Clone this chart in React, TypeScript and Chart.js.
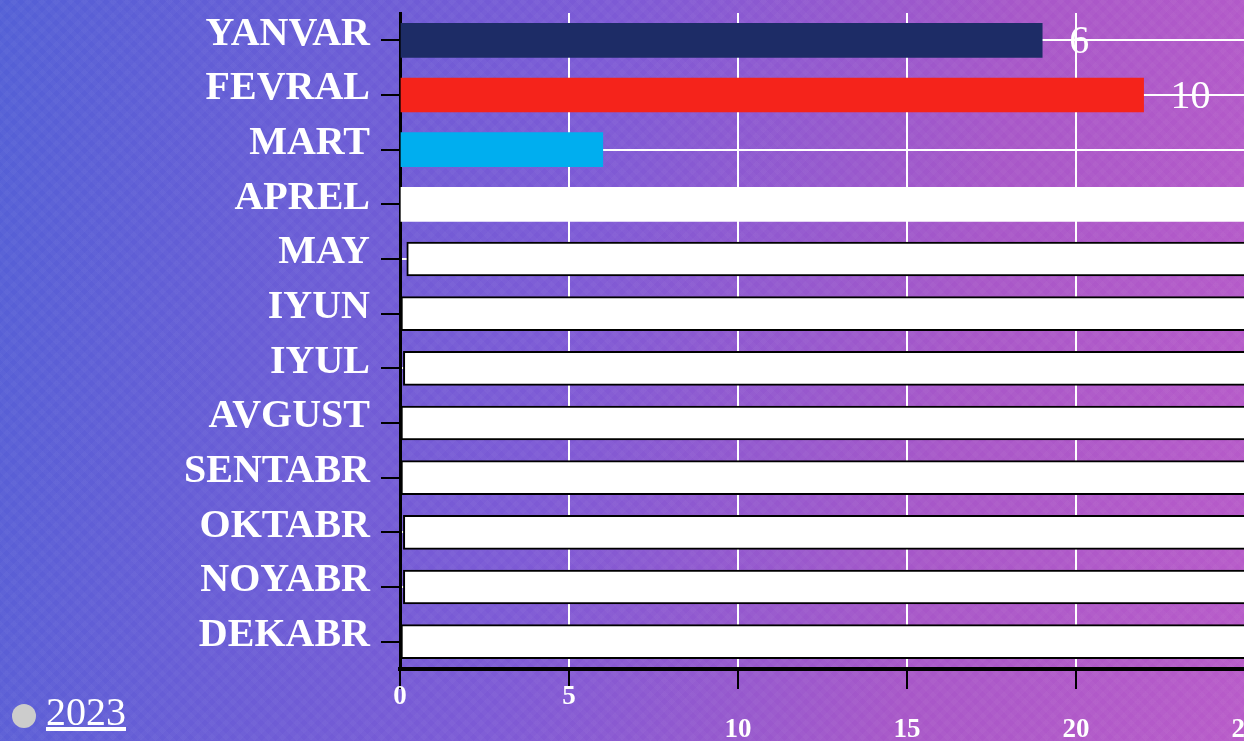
import React, { useEffect, useRef } from "react";
import { Chart, registerables } from "chart.js";

Chart.register(...registerables);

const months = [
  "YANVAR", "FEVRAL", "MART", "APREL", "MAY", "IYUN",
  "IYUL", "AVGUST", "SENTABR", "OKTABR", "NOYABR", "DEKABR",
];
const barStart = [0, 0, 0, 0, 0.2, 0, 0.1, 0, 0, 0.1, 0.1, 0];
const barEnd = [19, 22, 6, 30, 30, 30, 30, 30, 30, 30, 30, 30];
const valueLabels = ["6", "10", "", "", "", "", "", "", "", "", "", ""];
const barColors = [
  "#1d2c66", "#f5231b", "#00aeef", "#ffffff", "#ffffff", "#ffffff",
  "#ffffff", "#ffffff", "#ffffff", "#ffffff", "#ffffff", "#ffffff",
];
const barBorders = [0, 0, 0, 0, 2, 2, 2, 2, 2, 2, 2, 2];
const xTicks = [0, 5, 10, 15, 20, 25, 30];
const legendLabel = "2023";

const valueLabelPlugin = {
  id: "valueLabels",
  afterDatasetsDraw(chart: any) {
    const ctx = chart.ctx;
    const meta = chart.getDatasetMeta(0);
    const yScale = chart.scales.y;
    ctx.save();
    ctx.fillStyle = "#ffffff";
    ctx.font = "normal 40px 'Liberation Serif'";
    ctx.textAlign = "left";
    ctx.textBaseline = "middle";
    meta.data.forEach((el: any, i: number) => {
      const t = valueLabels[i];
      if (!t) return;
      ctx.fillText(t, el.x + 27, yScale.getPixelForValue(i) + 2);
    });
    ctx.restore();
  },
};

export default function App() {
  const ref = useRef<HTMLCanvasElement | null>(null);

  useEffect(() => {
    if (!ref.current) return;
    const chart = new Chart(ref.current, {
      type: "bar",
      data: {
        labels: months,
        datasets: [
          {
            label: legendLabel,
            data: months.map((_, i) => [barStart[i], barEnd[i]]) as any,
            backgroundColor: barColors,
            borderColor: "#000000",
            borderWidth: barBorders,
            borderSkipped: false,
            barThickness: 34,
          },
        ],
      },
      options: {
        indexAxis: "y",
        animation: false,
        responsive: false,
        maintainAspectRatio: false,
        layout: { padding: { top: 13, right: 26, left: 0, bottom: 0 } },
        plugins: {
          legend: { display: false },
          tooltip: { enabled: false },
        },
        scales: {
          x: {
            type: "linear",
            min: 0,
            max: 30,
            afterBuildTicks: (s: any) => {
              s.ticks = xTicks.map((v) => ({ value: v }));
            },
            afterFit: (s: any) => {
              s.height = 72;
              s.paddingLeft = 0;
              s.paddingRight = 0;
            },
            grid: {
              color: "#ffffff",
              lineWidth: 2,
              tickColor: "#000000",
              tickWidth: 2,
              tickLength: 20,
            },
            border: { color: "#000000", width: 4 },
            ticks: {
              color: "#ffffff",
              padding: -8,
              maxRotation: 0,
              autoSkip: false,
              font: { family: "'Liberation Serif'", size: 27, weight: "bold" },
              callback: (v: any) => (Number(v) >= 10 ? ["", String(v)] : String(v)),
            },
          },
          y: {
            type: "category",
            afterFit: (s: any) => {
              s.width = 400;
              s.paddingTop = 0;
              s.paddingBottom = 0;
            },
            grid: {
              offset: false,
              color: "#ffffff",
              lineWidth: 2,
              tickColor: "#000000",
              tickWidth: 2,
              tickLength: 19,
            },
            border: { color: "#000000", width: 3 },
            ticks: {
              color: "#ffffff",
              padding: 11,
              labelOffset: -6,
              autoSkip: false,
              font: { family: "'Liberation Serif'", size: 40, weight: "bold" },
            },
          },
        },
      },
      plugins: [valueLabelPlugin],
    });
    return () => chart.destroy();
  }, []);

  return (
    <div
      style={{
        position: "fixed",
        inset: 0,
        overflow: "hidden",
        backgroundColor: "#7a5ad4",
        backgroundImage:
          "repeating-linear-gradient(45deg, rgba(255,255,255,0.025) 0px, rgba(255,255,255,0.025) 5px, rgba(0,0,0,0) 5px, rgba(0,0,0,0) 10px), repeating-linear-gradient(-45deg, rgba(255,255,255,0.025) 0px, rgba(255,255,255,0.025) 5px, rgba(0,0,0,0) 5px, rgba(0,0,0,0) 10px), linear-gradient(100deg, #5360d6 0%, #7d5ad5 45%, #a857c8 75%, #b85bc9 100%)",
      }}
    >
      <canvas
        ref={ref}
        width={1440}
        height={741}
        style={{ position: "absolute", left: 0, top: 0, width: 1440, height: 741 }}
      />
      <div
        style={{
          position: "absolute",
          left: 12,
          top: 704,
          width: 24,
          height: 24,
          borderRadius: "50%",
          background: "#cccccc",
        }}
      />
      <span
        style={{
          position: "absolute",
          left: 46,
          top: 692,
          fontFamily: "'Liberation Serif'",
          fontSize: 40,
          lineHeight: "40px",
          color: "#ffffff",
          textDecoration: "underline",
          whiteSpace: "nowrap",
        }}
      >
        {legendLabel}
      </span>
    </div>
  );
}
